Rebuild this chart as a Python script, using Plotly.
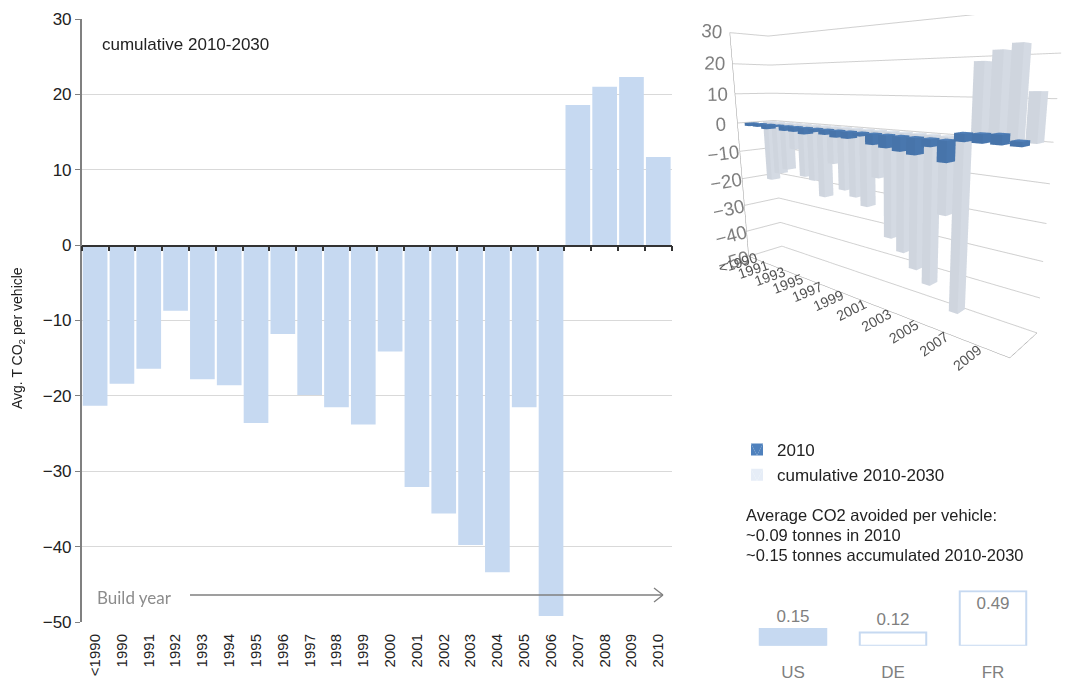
import plotly.graph_objects as go
import numpy as np

# ---------------- data ----------------
categories = ["<1990", "1990", "1991", "1992", "1993", "1994", "1995", "1996", "1997",
              "1998", "1999", "2000", "2001", "2002", "2003", "2004", "2005", "2006",
              "2007", "2008", "2009", "2010"]
cumulative_2010_2030 = [-21.3, -18.4, -16.4, -8.7, -17.8, -18.6, -23.6, -11.8, -19.9,
                        -21.5, -23.8, -14.1, -32.1, -35.6, -39.8, -43.4, -21.5, -49.2,
                        18.6, 21.0, 22.3, 11.7]
year_2010 = [-1.0, -1.0, -1.5, -0.5, -1.5, -1.5, -2.0, -1.0, -1.5, -2.0, -2.0, -1.0,
             -3.0, -3.5, -4.0, -4.5, -2.0, -5.5, 2.0, 2.2, 2.4, 1.2]
series_names = ["2010", "cumulative 2010-2030"]
countries = ["US", "DE", "FR"]
country_values = [0.15, 0.12, 0.49]
country_labels = ["0.15", "0.12", "0.49"]
y_ticks = [-50, -40, -30, -20, -10, 0, 10, 20, 30]

LIGHT = "#C6D9F1"
DARK = "#4F81BD"
W, H = 1091, 691
OFF = 8  # page offset of the plot in the browser


def px_x(p):
    return (p - OFF) / W


def px_y(p):
    return (H - (p - OFF)) / H


fig = go.Figure()

# main bar chart
fig.add_trace(go.Bar(x=categories, y=cumulative_2010_2030, marker=dict(color=LIGHT, line=dict(width=0)),
                     xaxis="x", yaxis="y", showlegend=False, hoverinfo="x+y"))
# helper trace for zero-line axis (ticks at category boundaries)
fig.add_trace(go.Scatter(x=categories, y=[0] * len(categories), xaxis="x2", yaxis="y",
                         mode="markers", marker=dict(opacity=0), showlegend=False, hoverinfo="skip"))

# country mini bars
fig.add_trace(go.Bar(x=countries, y=country_values, text=country_labels,
                     textposition=["outside", "outside", "inside"], insidetextanchor="end",
                     textfont=dict(size=17, color="#7F7F7F", family="Liberation Sans"),
                     marker=dict(color=[LIGHT, "white", "white"], line=dict(color=LIGHT, width=2)),
                     xaxis="x3", yaxis="y3", showlegend=False, cliponaxis=False, width=0.665))


# 3D inset: boxes built from the data
def boxes(vals, ypos, w=0.6, d=0.5):
    xs, ys, zs, I, J, K = [], [], [], [], [], []
    faces = [(0, 1, 2), (0, 2, 3), (4, 5, 6), (4, 6, 7), (0, 1, 5), (0, 5, 4), (1, 2, 6), (1, 6, 5),
             (2, 3, 7), (2, 7, 6), (3, 0, 4), (3, 4, 7)]
    for i, v in enumerate(vals):
        x0, x1 = i - w / 2, i + w / 2
        y0, y1 = ypos - d / 2, ypos + d / 2
        base = len(xs)
        for (a, b, c) in [(x0, y0, 0), (x1, y0, 0), (x1, y1, 0), (x0, y1, 0),
                          (x0, y0, v), (x1, y0, v), (x1, y1, v), (x0, y1, v)]:
            xs.append(a); ys.append(b); zs.append(c)
        for f in faces:
            I.append(base + f[0]); J.append(base + f[1]); K.append(base + f[2])
    return xs, ys, zs, I, J, K


for s, (vals, col) in enumerate([(year_2010, DARK), (cumulative_2010_2030, "#E6EDF7")]):
    xs, ys, zs, I, J, K = boxes(vals, s)
    fig.add_trace(go.Mesh3d(x=xs, y=ys, z=zs, i=I, j=J, k=K, color=col, flatshading=True,
                            lighting=dict(ambient=0.9, diffuse=0.25, specular=0.05, roughness=0.9),
                            name=series_names[s], showlegend=True, scene="scene", hoverinfo="skip"))

axis_font = dict(family="Liberation Sans", size=17, color="#222222")

fig.update_layout(
    width=W, height=H, margin=dict(l=0, r=0, t=0, b=0, autoexpand=False),
    paper_bgcolor="white", plot_bgcolor="white",
    bargap=0.08,
    font=dict(family="Liberation Sans", color="#222222"),
    xaxis=dict(domain=[px_x(81.7), px_x(671.7)], type="category", categoryorder="array",
               categoryarray=categories, range=[-0.5, len(categories) - 0.5], anchor="y",
               tickangle=-90, tickfont=dict(family="Liberation Sans", size=15, color="#222222"),
               showline=False, ticks="", showgrid=False, ticklabelstandoff=8, automargin=False),
    xaxis2=dict(overlaying="x", anchor="free", position=px_y(245.5), type="category",
                categoryorder="array", categoryarray=categories, range=[-0.5, len(categories) - 0.5],
                showline=True, linecolor="#333333", linewidth=1.5, ticks="outside",
                tickson="boundaries", ticklen=5, tickcolor="#333333", tickwidth=1.5,
                showticklabels=False, showgrid=False, automargin=False),
    yaxis=dict(domain=[px_y(622), px_y(19)], range=[-50, 30], tickvals=y_ticks, anchor="x",
               showgrid=True, gridcolor="#D9D9D9", gridwidth=1.3, zeroline=False,
               showline=True, linecolor="#808080", linewidth=1.5, ticks="outside", ticklen=5,
               tickcolor="#808080", tickfont=axis_font, automargin=False),
    xaxis3=dict(domain=[px_x(743), px_x(1043)], anchor="y3", type="category", showline=False,
                ticks="", showgrid=False, tickfont=dict(family="Liberation Sans", size=17, color="#7F7F7F"),
                ticklabelstandoff=14, automargin=False),
    yaxis3=dict(domain=[px_y(645.7), px_y(590.2)], range=[0, 0.5], anchor="x3", visible=False,
                automargin=False),
    scene=dict(
        domain=dict(x=[px_x(690), 1.0], y=[px_y(410), px_y(15)]),
        aspectmode="manual", aspectratio=dict(x=2.1, y=0.3, z=1.55),
        camera=dict(eye=dict(x=1.90, y=-1.994, z=0.45), center=dict(x=0.18, y=0.056, z=-0.27),
                    up=dict(x=0, y=0, z=1), projection=dict(type="perspective")),
        xaxis=dict(title=dict(text=""), tickvals=list(range(0, len(categories), 2)),
                   ticktext=categories[0::2], range=[-0.6, len(categories) - 0.4],
                   showgrid=False, showbackground=False, showline=True, linecolor="#999999",
                   tickfont=dict(size=13, color="#555555"), zeroline=False, showspikes=False),
        yaxis=dict(title=dict(text=""), showticklabels=False, range=[-0.5, 1.5], showgrid=False,
                   showbackground=False, showline=True, linecolor="#999999", zeroline=False,
                   showspikes=False),
        zaxis=dict(title=dict(text=""), range=[-50, 30], tickvals=y_ticks, showgrid=True,
                   gridcolor="#D0D0D0", showbackground=False, zeroline=False, showline=True,
                   linecolor="#999999", tickfont=dict(size=15, color="#7F7F7F"), showspikes=False),
        bgcolor="white",
    ),
    legend=dict(x=px_x(737), y=px_y(432), xanchor="left", yanchor="top", bgcolor="rgba(0,0,0,0)",
                font=dict(family="Liberation Sans", size=17, color="#222222"), tracegroupgap=2,
                itemsizing="constant"),
    annotations=[
        dict(text="cumulative 2010-2030", x=px_x(100), y=px_y(44), xref="paper", yref="paper",
             xanchor="left", yanchor="middle", showarrow=False,
             font=dict(family="Liberation Sans", size=17, color="#222222")),
        dict(text="Avg. T CO<sub>2</sub> per vehicle", x=px_x(18), y=px_y(338), xref="paper",
             yref="paper", textangle=-90, showarrow=False, xanchor="center", yanchor="middle",
             font=dict(family="Liberation Sans", size=14, color="#222222")),
        dict(text="Build year", x=px_x(95), y=px_y(597), xref="paper", yref="paper",
             xanchor="left", yanchor="middle", showarrow=False,
             font=dict(family="Lato", size=17, color="#8C8C8C")),
        dict(text="Average CO2 avoided per vehicle:", x=px_x(744), y=px_y(515), xref="paper",
             yref="paper", xanchor="left", yanchor="middle", showarrow=False,
             font=dict(family="Liberation Sans", size=16.5, color="#222222")),
        dict(text="~0.09 tonnes in 2010", x=px_x(744), y=px_y(535), xref="paper",
             yref="paper", xanchor="left", yanchor="middle", showarrow=False,
             font=dict(family="Liberation Sans", size=16.5, color="#222222")),
        dict(text="~0.15 tonnes accumulated 2010-2030", x=px_x(744), y=px_y(555), xref="paper",
             yref="paper", xanchor="left", yanchor="middle", showarrow=False,
             font=dict(family="Liberation Sans", size=16.5, color="#222222")),
    ],
    shapes=[
        dict(type="line", xref="paper", yref="paper", x0=px_x(190), x1=px_x(663), y0=px_y(595),
             y1=px_y(595), line=dict(color="#7F7F7F", width=1.3)),
        dict(type="line", xref="paper", yref="paper", x0=px_x(654), x1=px_x(663), y0=px_y(588),
             y1=px_y(595), line=dict(color="#7F7F7F", width=1.3)),
        dict(type="line", xref="paper", yref="paper", x0=px_x(654), x1=px_x(663), y0=px_y(602),
             y1=px_y(595), line=dict(color="#7F7F7F", width=1.3)),
    ],
)

fig.write_html("out.html")
